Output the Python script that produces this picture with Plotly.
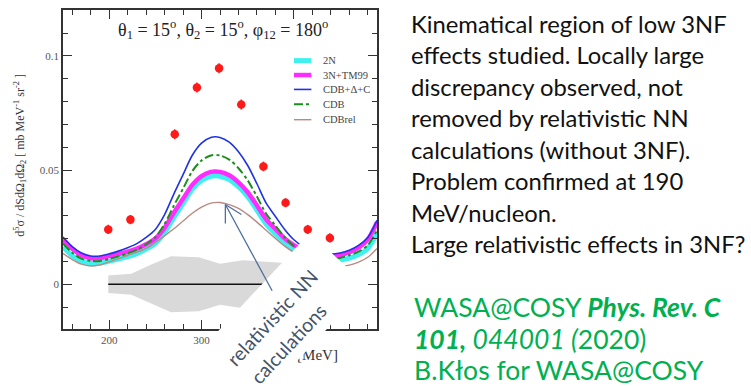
import plotly.graph_objects as go

# ---- theory curves on a 10 MeV grid of the arc length S ----
E_GRID = [150, 160, 170, 180, 190, 200, 210, 220, 230, 240, 250, 260, 270, 280,
          290, 300, 310, 320, 330, 340, 350, 360, 370, 380, 390, 400, 410, 420,
          430, 440, 450, 460, 470, 480, 490]

CDB_DELTA_C = [0.0207, 0.0165, 0.0137, 0.0124, 0.0124, 0.0133, 0.0145, 0.0160, 0.0178,
               0.0205, 0.0240, 0.0305, 0.0395, 0.0480, 0.0565, 0.0618, 0.0643, 0.0643,
               0.0622, 0.0580, 0.0520, 0.0440, 0.0355, 0.0297, 0.0240, 0.0195, 0.0165,
               0.0145, 0.0135, 0.0132, 0.0137, 0.0149, 0.0170, 0.0205, 0.0280]

CDB = [0.0178, 0.0138, 0.0112, 0.0102, 0.0102, 0.0111, 0.0122, 0.0135, 0.0151,
       0.0175, 0.0206, 0.0264, 0.0344, 0.0419, 0.0495, 0.0542, 0.0564, 0.0564,
       0.0546, 0.0508, 0.0455, 0.0384, 0.0308, 0.0257, 0.0206, 0.0167, 0.0140,
       0.0122, 0.0113, 0.0110, 0.0115, 0.0127, 0.0143, 0.0171, 0.0236]

TN_TM99 = [0.0196, 0.0155, 0.0127, 0.0114, 0.0114, 0.0123, 0.0132, 0.0143, 0.0156,
           0.0175, 0.0200, 0.0247, 0.0313, 0.0374, 0.0435, 0.0474, 0.0492, 0.0492,
           0.0477, 0.0446, 0.0403, 0.0345, 0.0284, 0.0242, 0.0201, 0.0171, 0.0148,
           0.0132, 0.0125, 0.0122, 0.0127, 0.0139, 0.0160, 0.0196, 0.0272]

TWO_N = [0.0163, 0.0125, 0.0101, 0.0092, 0.0092, 0.0101, 0.0110, 0.0121, 0.0134,
         0.0154, 0.0179, 0.0226, 0.0292, 0.0354, 0.0416, 0.0455, 0.0473, 0.0473,
         0.0458, 0.0427, 0.0383, 0.0325, 0.0263, 0.0221, 0.0180, 0.0149, 0.0126,
         0.0110, 0.0103, 0.0100, 0.0105, 0.0114, 0.0130, 0.0157, 0.0222]

CDB_REL = [0.0135, 0.0108, 0.0088, 0.0080, 0.0085, 0.0098, 0.0112, 0.0127, 0.0141,
           0.0157, 0.0183, 0.0212, 0.0243, 0.0277, 0.0311, 0.0338, 0.0355, 0.0358,
           0.0349, 0.0332, 0.0305, 0.0272, 0.0236, 0.0200, 0.0167, 0.0140, 0.0118,
           0.0100, 0.0088, 0.0081, 0.0079, 0.0084, 0.0097, 0.0118, 0.0157]

# ---- measured cross sections ----
E_DATA = [199, 223, 271, 295, 319, 343, 367, 391, 415, 439]
XS_DATA = [0.0240, 0.0283, 0.0657, 0.0862, 0.0946, 0.0787, 0.0516, 0.0357, 0.0240, 0.0203]
XS_ERR = [0.0020, 0.0020, 0.0022, 0.0022, 0.0022, 0.0022, 0.0021, 0.0020, 0.0020, 0.0020]

# ---- systematic uncertainty band (half width around zero) ----
BAND_E = [199, 224, 245, 267, 297, 320, 345, 370, 395, 420, 440]
BAND_HALF = [0.0038, 0.0046, 0.0085, 0.0123, 0.0118, 0.0090, 0.0105, 0.0100, 0.0092, 0.0080, 0.0070]

# ---- tick labels ----
X_TICKS = [200, 300, 400]
X_TICK_TEXT = ["200", "300", "400"]
Y_TICKS = [0, 0.05, 0.1]
Y_TICK_TEXT = ["0", "0.05", "0.1"]

SERIES = [
    ("2N", TWO_N, "#3ff0f0", 5, "solid"),
    ("3N+TM99", TN_TM99, "#ff2bff", 4.5, "solid"),
    ("CDB+Δ+C", CDB_DELTA_C, "#1f33e6", 1.6, "solid"),
    ("CDB", CDB, "#1b8f1b", 2, "dashdot"),
    ("CDBrel", CDB_REL, "#b98a82", 1.4, "solid"),
]

SERIF = "Liberation Serif"
SANS = "Lato"

# plot-area geometry in page pixels (used to place free text)
PLOT_L, PLOT_W, PLOT_B, PLOT_H = 63.3, 314.0, 329.3, 321.3


def px_to_paper(px, py):
    return (px - PLOT_L) / PLOT_W, (PLOT_B - py) / PLOT_H


fig = go.Figure()

# systematic band and its zero line
fig.add_trace(go.Scatter(
    x=BAND_E + BAND_E[::-1],
    y=BAND_HALF + [-h for h in BAND_HALF[::-1]],
    fill="toself", fillcolor="#d9d9d9", line=dict(width=0),
    mode="lines", hoverinfo="skip", showlegend=False))
fig.add_trace(go.Scatter(
    x=[BAND_E[0], BAND_E[-1]], y=[0, 0], mode="lines",
    line=dict(color="#111111", width=1.3), showlegend=False))

for name, vals, color, width, dash in SERIES:
    fig.add_trace(go.Scatter(
        x=E_GRID, y=vals, mode="lines", name=name,
        line=dict(color=color, width=width, dash=dash, shape="spline", smoothing=0.8),
        showlegend=False))

fig.add_trace(go.Scatter(
    x=E_DATA, y=XS_DATA, mode="markers",
    marker=dict(color="#ff1a1a", size=8.5),
    error_y=dict(type="data", array=XS_ERR, color="#ff1a1a", thickness=1.5, width=0),
    showlegend=False))

axis_common = dict(
    showline=True, linecolor="#333333", linewidth=1.6, mirror="allticks",
    ticks="inside", tickcolor="#333333", tickwidth=1.2, ticklen=9,
    showgrid=False, zeroline=False,
    tickfont=dict(family=SERIF, size=11, color="#555555"),
)
fig.update_xaxes(range=[150, 490], tickvals=X_TICKS, ticktext=X_TICK_TEXT,
                 minor=dict(ticks="inside", ticklen=5, dtick=20, tick0=0,
                            tickcolor="#333333", tickwidth=1.1),
                 **axis_common)
fig.update_yaxes(range=[-0.0196, 0.1201], tickvals=Y_TICKS, ticktext=Y_TICK_TEXT,
                 minor=dict(ticks="inside", ticklen=5, dtick=0.01, tick0=0,
                            tickcolor="#333333", tickwidth=1.1),
                 **axis_common)

# hand-made legend in the upper right of the frame
LEG_ROWS = [0.8413, 0.7961, 0.7510, 0.7043, 0.6561]
shapes = []
annotations = []
for (name, vals, color, width, dash), ry in zip(SERIES, LEG_ROWS):
    shapes.append(dict(type="line", xref="paper", yref="paper",
                       x0=0.7357, x1=0.791, y0=ry, y1=ry,
                       line=dict(color=color, width=width, dash=dash)))
    annotations.append(dict(text=name, xref="paper", yref="paper", x=0.8207, y=ry,
                            xanchor="left", yanchor="middle", showarrow=False,
                            font=dict(family=SERIF, size=10.5, color="#444444")))

# arrow barbs at the tip pointing onto the CDBrel curve
TIP = (325.8, 0.0349)
for bx, by in [(0, -19), (16, -10)]:
    shapes.append(dict(type="line", xref="x", yref="y", xsizemode="pixel", ysizemode="pixel",
                       xanchor=TIP[0], yanchor=TIP[1], x0=0, y0=0, x1=bx, y1=by,
                       line=dict(color="#4f6fa0", width=1.3)))

# kinematics header
annotations.append(dict(
    text="θ<sub>1</sub> = 15<sup>o</sup>, θ<sub>2</sub> = 15<sup>o</sup>, φ<sub>12</sub> = 180<sup>o</sup>",
    xref="paper", yref="paper", x=0.5086, y=0.9378, xanchor="center", yanchor="middle",
    showarrow=False, font=dict(family=SERIF, size=18, color="#222222")))

# axis titles
yt_x, yt_y = px_to_paper(21, 154)
annotations.append(dict(
    text="d<sup>5</sup>σ / dSdΩ<sub>1</sub>dΩ<sub>2</sub> [ mb MeV<sup>-1</sup> sr<sup>-2</sup> ]",
    xref="paper", yref="paper", x=yt_x, y=yt_y, textangle=-90,
    xanchor="center", yanchor="middle", showarrow=False,
    font=dict(family=SERIF, size=12, color="#333333")))
xt_x, xt_y = px_to_paper(340, 355)
annotations.append(dict(
    text="S [MeV]", xref="paper", yref="paper", x=xt_x, y=xt_y,
    xanchor="right", yanchor="middle", showarrow=False,
    font=dict(family=SERIF, size=15, color="#333333")))

# rotated call-out: white backing box, then the two text lines on top of it
LABEL_ANGLE = -47
mx, my = px_to_paper(289.5, 311.8)
annotations.append(dict(
    text="relativistic NN<br>calculations", xref="paper", yref="paper",
    x=mx, y=my, xanchor="center", yanchor="middle", textangle=LABEL_ANGLE,
    showarrow=False, bgcolor="white", width=143, height=78, borderpad=0, borderwidth=0,
    font=dict(family=SANS, size=19.5, color="rgba(0,0,0,0)")))
for line, (cx, cy) in [("relativistic NN", (272.6, 317.8)), ("calculations", (288.7, 343.7))]:
    lx, ly = px_to_paper(cx, cy)
    annotations.append(dict(
        text=line, xref="paper", yref="paper", x=lx, y=ly,
        xanchor="center", yanchor="middle", textangle=LABEL_ANGLE, showarrow=False,
        font=dict(family=SANS, size=19.5, color="#44546a")))
annotations.append(dict(
    text="", x=TIP[0], y=TIP[1], xref="x", yref="y", showarrow=True,
    ax=47.6, ay=87.7, arrowhead=0, arrowwidth=1.3, arrowcolor="#4f6fa0", standoff=0))

# description on the right
TEXT_LINES = [
    "Kinematical region of low 3NF",
    "effects studied. Locally large",
    "discrepancy observed, not",
    "removed by relativistic NN",
    "calculations (without 3NF).",
    "Problem confirmed at 190",
    "MeV/nucleon.",
    "Large relativistic effects in 3NF?",
]
ROW_PX = [22, 53.7, 85.4, 117.1, 148.8, 180.5, 212.2, 243.9]
for line, py in zip(TEXT_LINES, ROW_PX):
    tx, ty = px_to_paper(409, py)
    annotations.append(dict(text=line, xref="paper", yref="paper", x=tx, y=ty,
                            xanchor="left", yanchor="middle", showarrow=False,
                            font=dict(family=SANS, size=23.8, color="#111111")))

REF_LINES = [
    "WASA@COSY <b><i>Phys. Rev. C</i></b>",
    "<b><i>101,</i></b><i> 044001 (</i>2020)",
    "B.Kłos for WASA@COSY",
]
REF_PX = [307.3, 339.0, 370.7]
for line, py in zip(REF_LINES, REF_PX):
    tx, ty = px_to_paper(412, py)
    annotations.append(dict(text=line, xref="paper", yref="paper", x=tx, y=ty,
                            xanchor="left", yanchor="middle", showarrow=False,
                            font=dict(family=SANS, size=26.5, color="#00b050")))

fig.update_layout(
    width=751, height=386,
    margin=dict(l=63, r=374, t=8, b=57),
    paper_bgcolor="white", plot_bgcolor="white",
    showlegend=False,
    shapes=shapes, annotations=annotations,
)

fig.write_html("out.html")
